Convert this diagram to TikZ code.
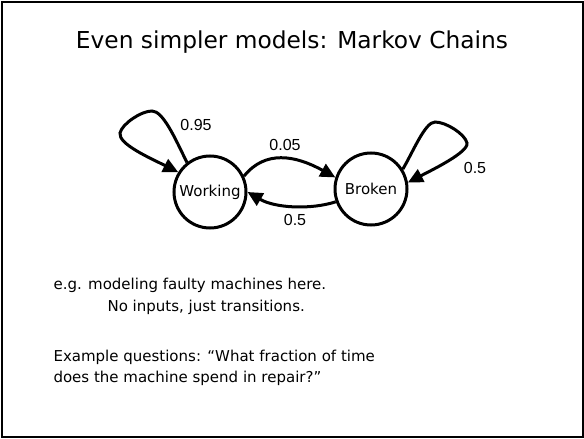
\documentclass[tikz,border=0pt]{standalone}
\usepackage{fontspec}
\setmainfont{DejaVu Sans}
\newfontfamily\lab{Liberation Sans}
\usetikzlibrary{arrows.meta}
\begin{document}
\begin{tikzpicture}[x=1pt,y=-1pt,
  state/.style={circle,draw,line width=3pt,minimum size=72pt,inner sep=0pt,font=\fontsize{15}{17}\selectfont},
  edge/.style={line width=3pt,-{Triangle[length=15pt,width=14pt]}},
  plab/.style={font=\lab\fontsize{16}{18}\selectfont},
  body/.style={anchor=west,font=\fontsize{15}{18}\selectfont}]
\useasboundingbox (0,0) rectangle (584,439);
\draw[line width=2pt] (1.5,1.5) rectangle (582.5,437);
\node[font=\fontsize{23.3}{27}\selectfont] (title) at (292,42) {Even simpler models: Markov Chains};
\node[state] (w) at (210,192) {Working};
\node[state] (b) at (371,189) {Broken};
\draw[edge] (w.128) .. controls (175,138) and (163,111) .. (152,111)
  .. controls (141,111) and (122,124) .. (120,133)
  .. controls (118,144) and (150,158) .. (w.148);
\draw[edge] (w.25) .. controls (265,150) and (295,155) .. (b.162);
\draw[edge] (b.200) .. controls (310,210) and (275,208) .. (w.0);
\draw[edge] (b.32) .. controls (413,152) and (425,122) .. (435,122)
  .. controls (446,122) and (465,134) .. (467,143)
  .. controls (469,152) and (432,170) .. (b.10);
\node[plab] (l1) at (196,125) {0.95};
\node[plab] (l2) at (285,145) {0.05};
\node[plab] (l3) at (295,220) {0.5};
\node[plab] (l4) at (475,168) {0.5};
\node[body] (t1) at (50,285) {e.g. modeling faulty machines here.};
\node[body] (t2) at (104,307) {No inputs, just transitions.};
\node[body] (t3) at (50,357) {Example questions: “What fraction of time};
\node[body] (t4) at (50,378) {does the machine spend in repair?”};
\end{tikzpicture}
\end{document}
